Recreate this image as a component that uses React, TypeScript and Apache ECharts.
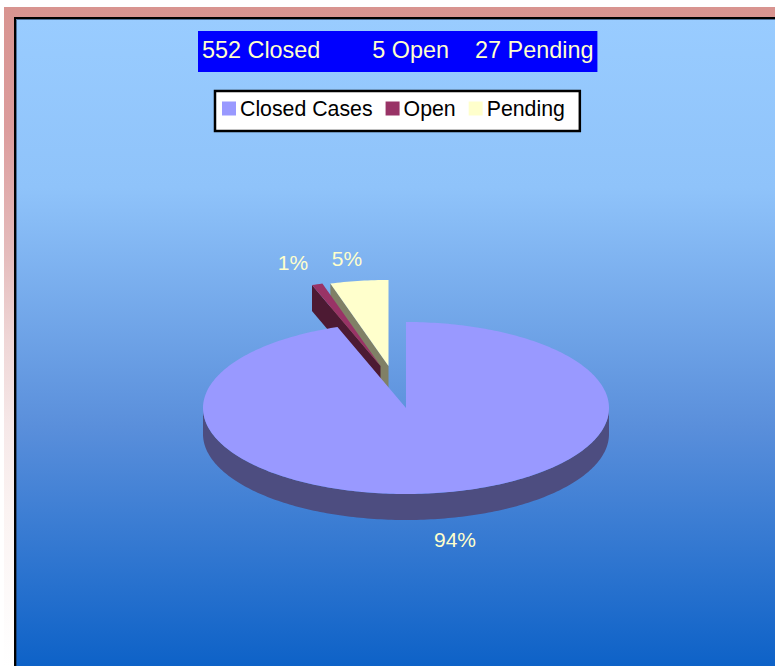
import React, { useEffect, useRef } from "react";
import * as echarts from "echarts";

const categories = ["Closed Cases", "Open", "Pending"];
const caseCounts = [552, 5, 27];
const percentLabels = ["94%", "1%", "5%"];
const headerText = "552 Closed        5 Open    27 Pending";
const topColors = ["#9999FF", "#993366", "#FFFFCC"];
const sideColors = ["#4D4D80", "#4D1A33", "#808066"];

const FONT = '"Liberation Sans", Arial, sans-serif';
const CX = 406, CY = 408, RX = 203, RY = 86, DEPTH = 26;
const OFFSETS = [[0, 0], [-25.5, -42], [-17.5, -42]];
const LABEL_POS = [[455, 539], [293, 262], [347, 258]];
const total = caseCounts.reduce((a, b) => a + b, 0);

function pt(cx: number, cy: number, deg: number): number[] {
  const t = (deg * Math.PI) / 180;
  return [cx + RX * Math.sin(t), cy - RY * Math.cos(t)];
}

function sliceRender(index: number) {
  return (_params: any, api: any) => {
    const before = caseCounts.slice(0, index).reduce((a, b) => a + b, 0);
    const a0 = (before / total) * 360;
    const a1 = a0 + (api.value(0) / total) * 360;
    const cx = CX + OFFSETS[index][0];
    const cy = CY + OFFSETS[index][1];
    const children: any[] = [];
    const steps = Math.max(4, Math.ceil((a1 - a0) / 1));
    const arc: number[][] = [];
    for (let i = 0; i <= steps; i++) arc.push(pt(cx, cy, a0 + ((a1 - a0) * i) / steps));

    // outer rim: only the part of the arc facing the viewer
    const rimLo = Math.max(a0, 90), rimHi = Math.min(a1, 270);
    if (rimHi > rimLo) {
      const top: number[][] = [];
      for (let d = rimLo; d <= rimHi + 0.001; d += 1) top.push(pt(cx, cy, d));
      const bottom = top.map((p) => [p[0], p[1] + DEPTH]).reverse();
      children.push({ type: "polygon", shape: { points: top.concat(bottom) }, style: { fill: sideColors[index] } });
    }
    // exploded slices show the cut face on their left edge
    if (index > 0) {
      const outer = arc[0];
      children.push({
        type: "polygon",
        shape: { points: [outer, [cx, cy], [cx, cy + DEPTH], [outer[0], outer[1] + DEPTH]] },
        style: { fill: sideColors[index] },
      });
    }
    children.push({
      type: "polygon",
      shape: { points: [[cx, cy] as number[]].concat(arc) },
      style: { fill: topColors[index] },
    });
    children.push({
      type: "text",
      style: {
        text: percentLabels[index],
        x: LABEL_POS[index][0],
        y: LABEL_POS[index][1],
        align: "center",
        verticalAlign: "middle",
        fill: "#FFFFCC",
        font: `21px ${FONT}`,
      },
    });
    return { type: "group", children };
  };
}

export default function App() {
  const ref = useRef<HTMLDivElement>(null);
  useEffect(() => {
    document.body.style.margin = "0";
    const chart = echarts.init(ref.current!, undefined, { renderer: "svg" });
    // draw back slices first so the large slice overlaps them
    const order = [2, 1, 0];
    chart.setOption({
      animation: false,
      backgroundColor: "#FFFFFF",
      title: {
        text: headerText,
        left: 198,
        top: 31,
        padding: [4, 4, 8, 4],
        backgroundColor: "#0000FF",
        textStyle: { color: "#FFFFCC", fontFamily: FONT, fontSize: 23.4, fontWeight: "normal", lineHeight: 29 },
        z: 10,
      },
      legend: {
        data: categories,
        left: 215,
        top: 91,
        padding: [7, 15, 12, 7],
        itemWidth: 14,
        itemHeight: 14,
        itemGap: 13,
        icon: "rect",
        backgroundColor: "#FFFFFF",
        borderColor: "#000000",
        borderWidth: 2.5,
        textStyle: { color: "#000000", fontFamily: FONT, fontSize: 21.3, padding: [0, 0, 6, -1] },
        z: 10,
      },
      graphic: [
        {
          type: "rect",
          z: -10,
          silent: true,
          shape: { x: 4, y: 7, width: 771, height: 659 },
          style: {
            fill: {
              type: "linear", x: 0, y: 0, x2: 0, y2: 1,
              colorStops: [
                { offset: 0, color: "#D89490" },
                { offset: 0.182, color: "#DC9C9C" },
                { offset: 0.376, color: "#E5BCBC" },
                { offset: 0.505, color: "#EFD6D6" },
                { offset: 0.634, color: "#F6E8E8" },
                { offset: 0.763, color: "#FBF3F2" },
                { offset: 0.956, color: "#FEFDFD" },
                { offset: 1, color: "#FFFFFF" },
              ],
            },
          },
        },
        {
          type: "rect",
          z: -9,
          silent: true,
          shape: { x: 15, y: 18, width: 780, height: 680 },
          style: {
            stroke: "#000000",
            lineWidth: 2,
            fill: {
              type: "linear", x: 0, y: 0, x2: 0, y2: 1,
              colorStops: [
                { offset: 0, color: "#99CCFF" },
                { offset: 0.25, color: "#8FC3FA" },
                { offset: 0.6, color: "#5A8FDB" },
                { offset: 0.96, color: "#0C61C7" },
                { offset: 1, color: "#0A5FC6" },
              ],
            },
          },
        },
        {
          type: "rect",
          z: -8,
          silent: true,
          shape: { x: 16.5, y: 19.5, width: 780, height: 680 },
          style: { fill: "transparent", stroke: "rgba(20,40,70,0.55)", lineWidth: 1 },
        },
      ],
      series: order.map((i) => ({
        type: "custom",
        name: categories[i],
        coordinateSystem: "none",
        clip: false,
        silent: true,
        itemStyle: { color: topColors[i] },
        data: [[caseCounts[i]]],
        renderItem: sliceRender(i),
      })),
    });
    return () => chart.dispose();
  }, []);
  return <div ref={ref} style={{ position: "absolute", left: 0, top: 0, width: 775, height: 666 }} />;
}
